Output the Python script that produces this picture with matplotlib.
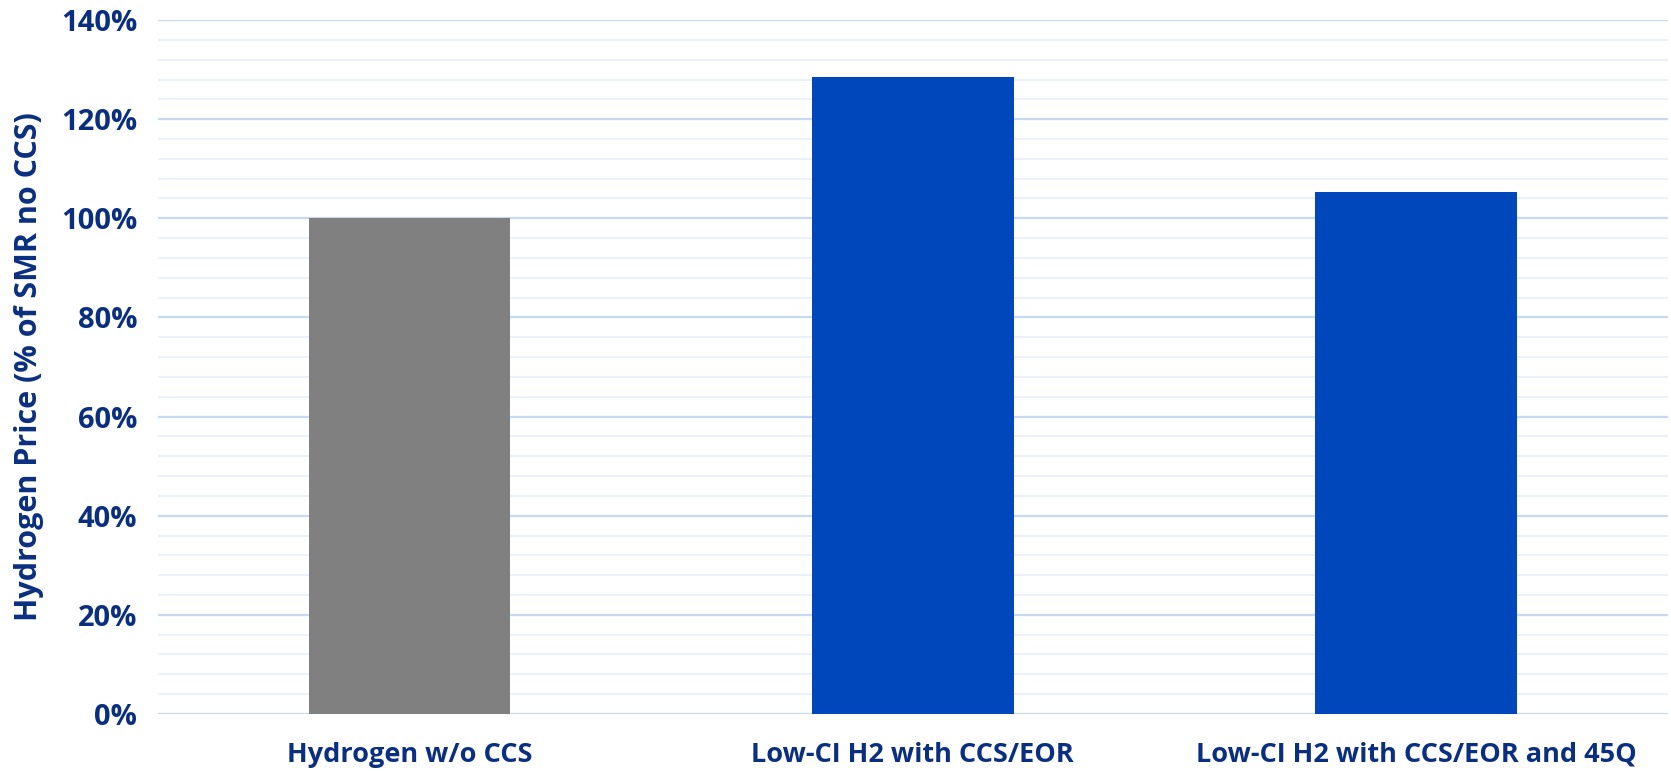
import matplotlib.pyplot as plt
from matplotlib.ticker import MultipleLocator, PercentFormatter

categories = ['Hydrogen w/o CCS', 'Low-CI H2 with CCS/EOR', 'Low-CI H2 with CCS/EOR and 45Q']
price_pct = [100, 128.5, 105.3]
bar_colors = ['#808080', '#0047BB', '#0047BB']

text_color = '#0B2F80'
plt.rcParams['font.family'] = ['Open Sans', 'DejaVu Sans']
plt.rcParams['font.weight'] = 'bold'

fig = plt.figure(figsize=(16.71, 7.71), dpi=100)
ax = fig.add_axes([0.0946, 0.074, 0.9034, 0.9])

x = range(len(categories))
ax.bar(x, price_pct, width=0.4, color=bar_colors, zorder=3)

ax.set_xlim(-0.5, len(categories) - 0.5)
ax.set_ylim(0, 140)
ax.yaxis.set_major_locator(MultipleLocator(20))
ax.yaxis.set_minor_locator(MultipleLocator(4))
ax.yaxis.set_major_formatter(PercentFormatter(decimals=0))
ax.grid(axis='y', which='major', color='#C6DAF4', linewidth=1.6, zorder=0)
ax.grid(axis='y', which='minor', color='#EAF1FB', linewidth=1.4, zorder=0)

ax.set_xticks(list(x))
ax.set_xticklabels(categories)
ax.tick_params(axis='both', which='both', length=0, labelcolor=text_color)
ax.tick_params(axis='x', labelsize=19.5, pad=20)
ax.tick_params(axis='y', labelsize=21, pad=15)
for lbl in ax.get_xticklabels() + ax.get_yticklabels():
    lbl.set_fontweight('bold')

ax.set_ylabel('Hydrogen Price (% of SMR no CCS)', fontsize=22, fontweight='bold',
              color=text_color, labelpad=12)

for side in ax.spines.values():
    side.set_visible(False)

fig.savefig('out.png', dpi=100)
